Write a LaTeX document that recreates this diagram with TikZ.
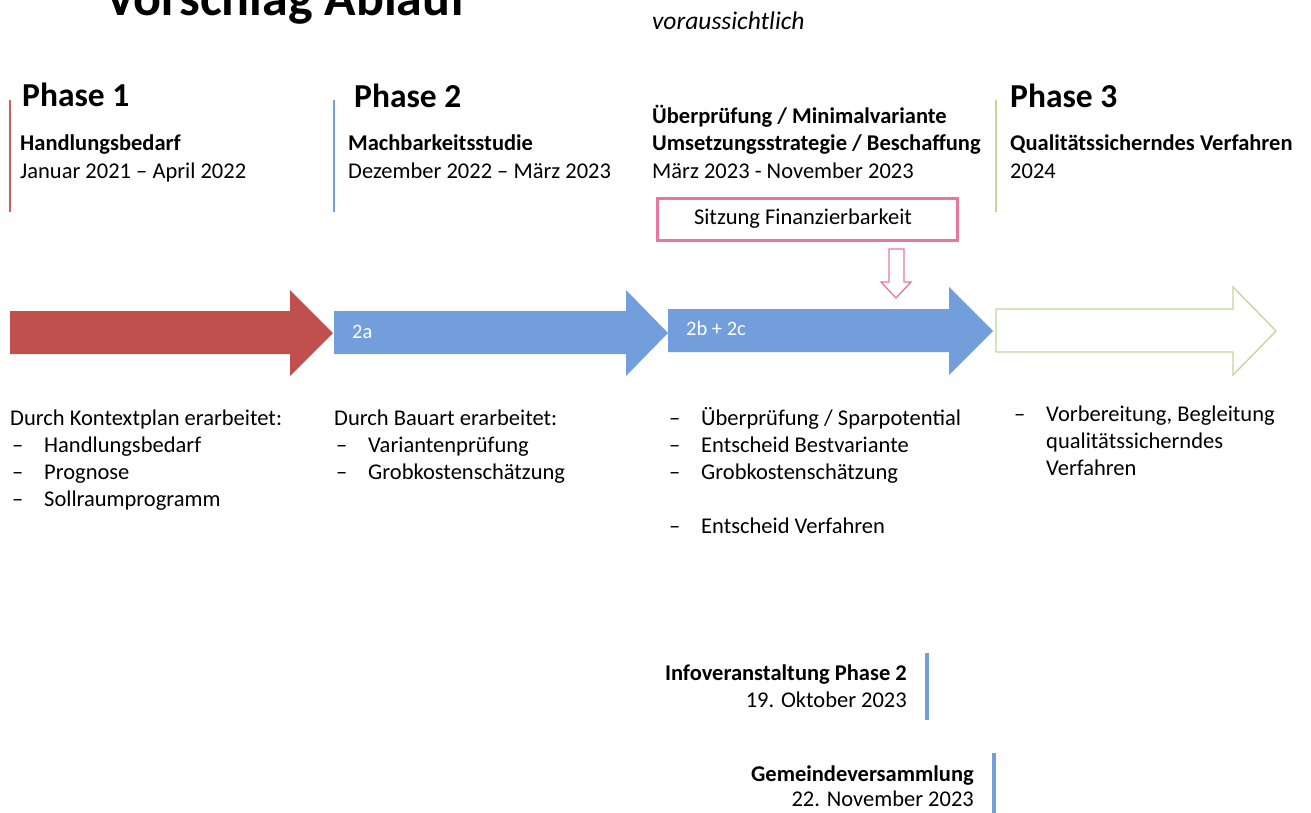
\documentclass[tikz,border=0pt]{standalone}
\usepackage{fontspec}
\setmainfont{Carlito}
\definecolor{redA}{HTML}{C0504D}
\definecolor{blueA}{HTML}{729FDB}
\definecolor{greenA}{HTML}{C3D69B}
\definecolor{pinkA}{HTML}{EA769F}
\definecolor{redL}{HTML}{C9625F}
\begin{document}
\begin{tikzpicture}[x=1pt,y=-1pt,
  base/.style={anchor=base west, inner sep=0pt, font=\fontsize{22.5}{27}\selectfont},
  bold/.style={base, font=\fontsize{22.5}{27}\selectfont\bfseries},
  phase/.style={anchor=base west, inner sep=0pt, font=\fontsize{33.5}{38}\selectfont\bfseries},
  rbase/.style={base, anchor=base east},
  rbold/.style={bold, anchor=base east},
  lbl/.style={base, text=white, font=\fontsize{20.5}{24}\selectfont}]
\useasboundingbox (0,0) rectangle (1311,812);
\clip (0,0) rectangle (1311,812);
\fill[white] (0,0) rectangle (1311,812);

% title
\node[anchor=base west, inner sep=0pt, font=\fontsize{52}{56}\selectfont\bfseries] (title) at (105,15) {Vorschlag Ablauf};
\node[base, font=\fontsize{25.5}{29}\selectfont\itshape] (vor) at (652,29) {voraussichtlich};

% vertical separators
\draw[redL, line width=1.5pt] (10,100) -- (10,212);
\draw[blueA, line width=1.5pt] (334,100) -- (334,212);
\draw[greenA, line width=1.5pt] (996,100) -- (996,212);

% headers
\node[phase] (p1) at (22,106) {Phase 1};
\node[bold] (p1a) at (20,150) {Handlungsbedarf};
\node[base] (p1b) at (20,178) {Januar 2021 – April 2022};

\node[phase] (p2) at (354,107) {Phase 2};
\node[bold] (p2a) at (348,150) {Machbarkeitsstudie};
\node[base] (p2b) at (348,178) {Dezember 2022 – März 2023};

\node[bold] (p2c) at (652,123) {Überprüfung / Minimalvariante};
\node[bold] (p2d) at (652,150) {Umsetzungsstrategie / Beschaffung};
\node[base] (p2e) at (652,178) {März 2023 - November 2023};

\node[phase] (p3) at (1010,107) {Phase 3};
\node[bold] (p3a) at (1010,150) {Qualitätssicherndes Verfahren};
\node[base] (p3b) at (1010,178) {2024};

% pink box and arrow
\node[draw=pinkA, line width=3pt, minimum width=300pt, minimum height=42pt, inner sep=0pt,
      font=\fontsize{22.5}{27}\selectfont] (sitz) at (807,219) {\hspace*{-8pt}Sitzung Finanzierbarkeit};
\draw[pinkA, line width=1.3pt, fill=white] (889,249) -- (904,249) -- (904,282) -- (911,282) -- (896,298)
  -- (881,282) -- (889,282) -- cycle;

% big arrows
\fill[redA] (10,311) -- (290,311) -- (290,290) -- (333,333) -- (290,376) -- (290,354) -- (10,354) -- cycle;
\fill[blueA] (334,311) -- (626,311) -- (626,290) -- (668,333) -- (626,376) -- (626,354) -- (334,354) -- cycle;
\fill[blueA] (668,309) -- (949,309) -- (949,287) -- (993,331) -- (949,375) -- (949,352) -- (668,352) -- cycle;
\draw[greenA, line width=1.3pt] (996,309) -- (1233,309) -- (1233,287) -- (1276,331) -- (1233,375) -- (1233,352) -- (996,352) -- cycle;
\node[lbl] (l2a) at (352,338) {2a};
\node[lbl] (l2b) at (686,335) {2b + 2c};

% lists
\node[base] (d1) at (10,425) {Durch Kontextplan erarbeitet:};
\node[base] (d1a) at (12,452) {–};
\node[base] (d1at) at (44,452) {Handlungsbedarf};
\node[base] (d1b) at (12,479) {–};
\node[base] (d1bt) at (44,479) {Prognose};
\node[base] (d1c) at (12,506) {–};
\node[base] (d1ct) at (44,506) {Sollraumprogramm};

\node[base] (d2) at (334,425) {Durch Bauart erarbeitet:};
\node[base] (d2a) at (336,452) {–};
\node[base] (d2at) at (368,452) {Variantenprüfung};
\node[base] (d2b) at (336,479) {–};
\node[base] (d2bt) at (368,479) {Grobkostenschätzung};

\node[base] (d3a) at (669,425) {–};
\node[base] (d3at) at (701,425) {Überprüfung / Sparpotential};
\node[base] (d3b) at (669,452) {–};
\node[base] (d3bt) at (701,452) {Entscheid Bestvariante};
\node[base] (d3c) at (669,479) {–};
\node[base] (d3ct) at (701,479) {Grobkostenschätzung};
\node[base] (d3d) at (669,533) {–};
\node[base] (d3dt) at (701,533) {Entscheid Verfahren};

\node[base] (d4a) at (1014,421) {–};
\node[base] (d4at) at (1046,421) {Vorbereitung, Begleitung};
\node[base] (d4bt) at (1046,448) {qualitätssicherndes};
\node[base] (d4ct) at (1046,475) {Verfahren};

% events
\node[rbold] (e1) at (907,680) {Infoveranstaltung Phase 2};
\node[rbase] (e1d) at (907,707) {19. Oktober 2023};
\draw[blueA, line width=3.5pt] (927,653) -- (927,720);
\node[rbold] (e2) at (974,781) {Gemeindeversammlung};
\node[rbase] (e2d) at (974,806) {22. November 2023};
\draw[blueA, line width=3.5pt] (994,753) -- (994,815);
\end{tikzpicture}
\end{document}
